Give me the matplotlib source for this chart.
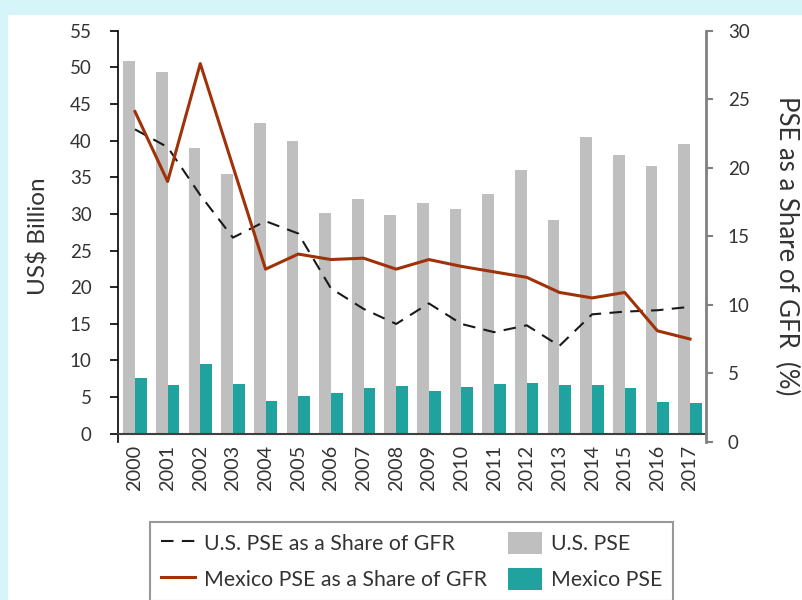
import matplotlib.pyplot as plt
from matplotlib.patches import Rectangle
import numpy as np

plt.rcParams['font.family'] = ['Lato', 'DejaVu Sans']

years = [str(y) for y in range(2000, 2018)]
us_pse = [50.8, 49.4, 39.0, 35.4, 42.4, 40.0, 30.1, 32.0, 29.9, 31.5,
          30.7, 32.7, 36.0, 29.1, 40.5, 38.1, 36.5, 39.6]
mex_pse = [7.6, 6.7, 9.5, 6.8, 4.5, 5.2, 5.6, 6.3, 6.5, 5.8,
           6.4, 6.8, 6.9, 6.6, 6.7, 6.2, 4.3, 4.2]
us_share = [22.8, 21.5, 18.0, 14.9, 16.1, 15.2, 11.2, 9.7, 8.6, 10.1,
            8.6, 8.0, 8.5, 7.0, 9.3, 9.5, 9.6, 9.85]
mex_share = [24.1, 19.0, 27.6, 20.1, 12.6, 13.7, 13.3, 13.4, 12.6, 13.3,
             12.8, 12.4, 12.0, 10.9, 10.5, 10.9, 8.1, 7.5]

GRAY = '#bfbfbf'
TEAL = '#20a39e'
RED = '#a0320a'
TXT = '#333333'


def main():
    W, H = 802, 600
    fig = plt.figure(figsize=(W / 100, H / 100), dpi=100, facecolor='#d6f5f9')
    fig.patches.append(Rectangle((8 / W, 0), 1, 1 - 15 / H, transform=fig.transFigure,
                                 facecolor='white', edgecolor='none', zorder=-10))

    left, right, top, bottom = 118, 705.7, 30.7, 441.8
    ax = fig.add_axes([left / W, 1 - bottom / H, (right - left) / W, (bottom - top) / H])
    ax.patch.set_visible(False)

    x = np.arange(len(years))
    bw = 0.358
    b_us = ax.bar(x - bw / 2, us_pse, bw, color=GRAY, label='U.S. PSE', zorder=2)
    b_mex = ax.bar(x + bw / 2, mex_pse, bw, color=TEAL, label='Mexico PSE', zorder=2)

    ax.set_xlim(-0.52, 17.48)
    ax.set_ylim(-1.1, 55)
    ax.set_yticks(range(0, 56, 5))

    ax.spines['top'].set_visible(False)
    ax.spines['right'].set_visible(False)
    ax.spines['left'].set_color('black')
    ax.spines['left'].set_linewidth(1.2)
    ax.spines['bottom'].set_position(('data', 0))
    ax.spines['bottom'].set_color('#404040')
    ax.spines['bottom'].set_linewidth(1.5)
    ax.spines['bottom'].set_zorder(3)

    ax2 = ax.twinx()
    ax2.set_ylim(0, 30.0)
    ax2.set_yticks(range(0, 31, 5))
    l_us, = ax2.plot(x, us_share, color='#1a1a1a', lw=1.5, dashes=(6, 4),
                     label='U.S. PSE as a Share of GFR')
    l_mex, = ax2.plot(x, mex_share, color=RED, lw=2.2,
                      label='Mexico PSE as a Share of GFR')
    for s in ['top', 'left', 'bottom']:
        ax2.spines[s].set_visible(False)
    ax2.spines['right'].set_color('#808080')
    ax2.spines['right'].set_linewidth(2)
    ax2.tick_params(axis='y', direction='out', length=5, width=1.5, color='#808080',
                    pad=11, labelsize=13.5, labelcolor=TXT)

    # x labels set after twinx so they stick
    ax.set_xticks(x)
    ax.set_xticklabels(years)
    ax.tick_params(axis='x', length=0, pad=8, labelrotation=90, labelsize=14.3,
                   labelcolor=TXT)
    ax.tick_params(axis='y', direction='out', length=6, width=1.2, color='black',
                   pad=13, labelsize=13.5, labelcolor=TXT)

    fig.text(38.5 / W, 1 - 236 / H, 'US$ Billion', rotation=90, ha='center',
             va='center', fontsize=17.5, color=TXT)
    fig.text(787 / W, 1 - 246 / H, 'PSE as a Share of GFR  (%)', rotation=-90,
             ha='center', va='center', fontsize=18.5, color=TXT)

    leg = fig.legend(handles=[l_us, l_mex, b_us, b_mex], ncol=2,
                     loc='upper left', bbox_to_anchor=(150 / W, 1 - 521.7 / H),
                     borderaxespad=0, fontsize=15.3, frameon=True, fancybox=False,
                     borderpad=0.5, handlelength=1.6, handleheight=1.18,
                     handletextpad=0.42, labelspacing=0.65, columnspacing=1.0)
    leg.get_frame().set_edgecolor('#7f7f7f')
    leg.get_frame().set_linewidth(1.5)
    for t in leg.get_texts():
        t.set_color(TXT)

    fig.savefig('out.png', dpi=100)


if __name__ == '__main__':
    main()
